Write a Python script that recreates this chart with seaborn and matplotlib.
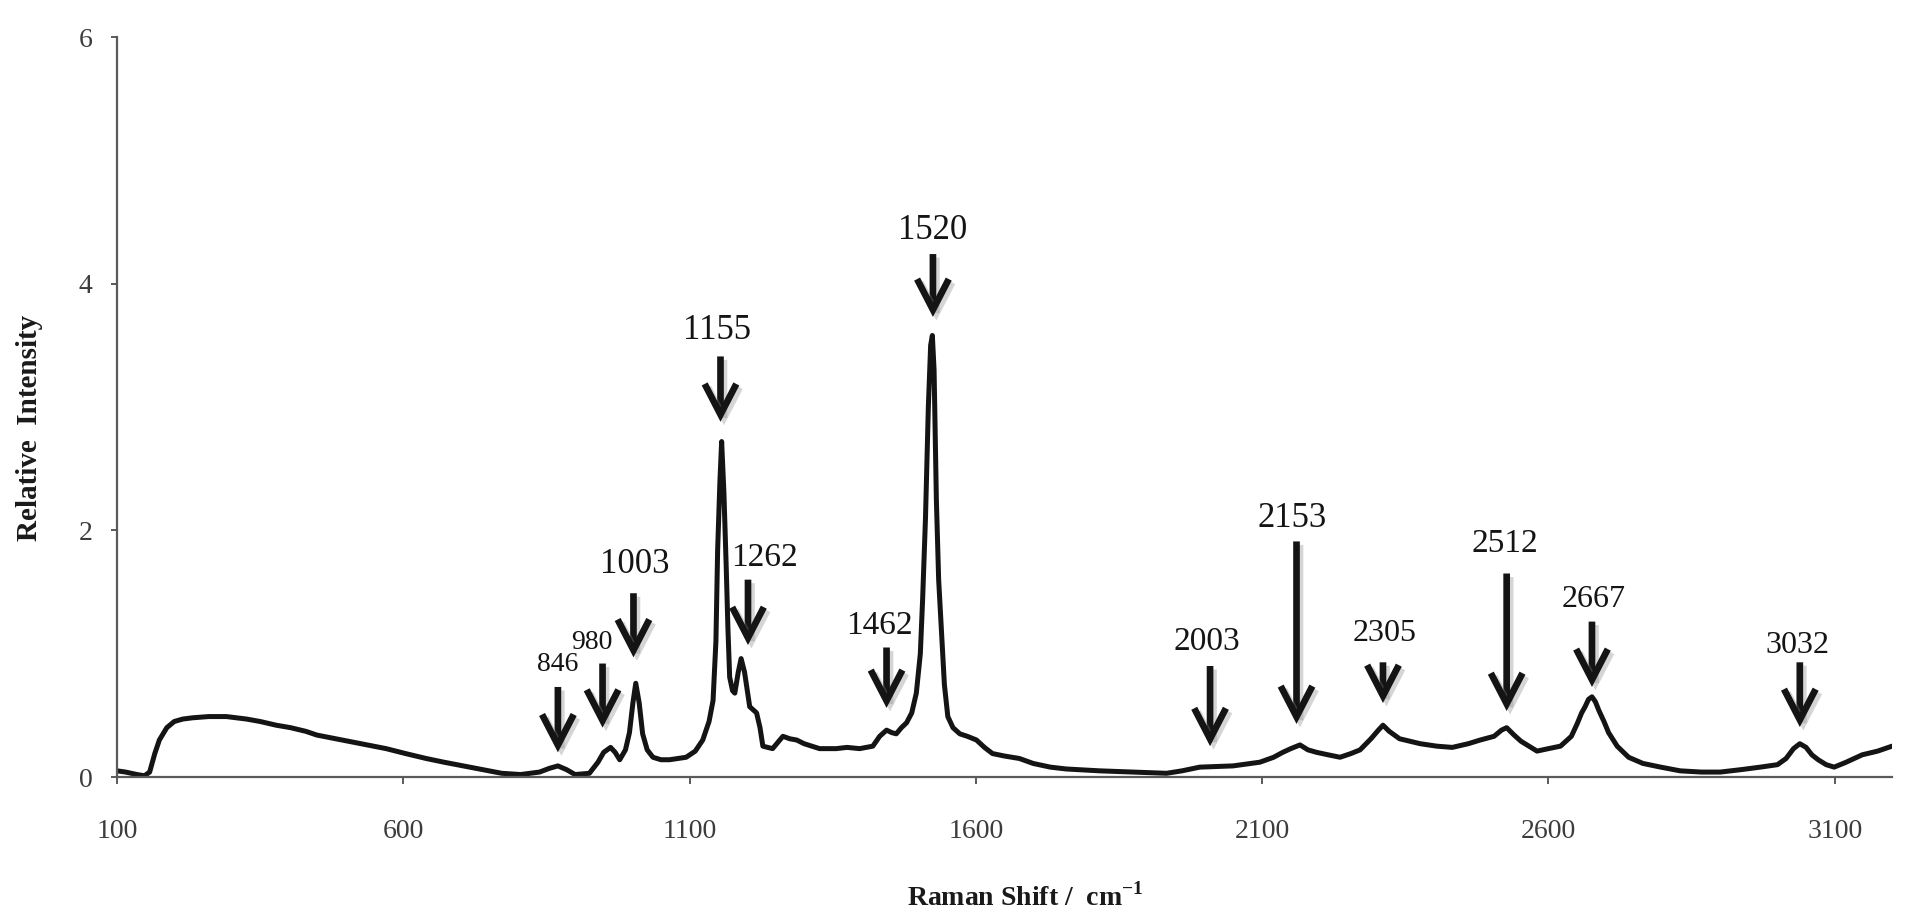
import numpy as np
import pandas as pd
import matplotlib
matplotlib.use("Agg")
import matplotlib.pyplot as plt
import matplotlib.patheffects as pe
import seaborn as sns

# ---------------- data ----------------
wavenumber = [100, 115, 135, 148, 157, 166, 174, 187, 200, 215, 232, 260, 291, 326, 350, 378,
              403, 430, 449, 471, 505, 538, 570, 604, 640, 671, 705, 738, 772, 805, 838, 855,
              870, 885, 900, 925, 940, 950, 962, 970, 978, 988, 995, 1001, 1006, 1012, 1018,
              1026, 1036, 1050, 1065, 1080, 1094, 1110, 1123, 1134, 1141, 1146, 1149, 1153,
              1156, 1160, 1164, 1167, 1170, 1175, 1179, 1185, 1190, 1196, 1205, 1217, 1223,
              1228, 1245, 1263, 1275, 1287, 1300, 1327, 1356, 1375, 1397, 1420, 1432, 1444,
              1453, 1461, 1470, 1479, 1488, 1496, 1503, 1507, 1512, 1517, 1521, 1524, 1527,
              1531, 1535, 1540, 1545, 1551, 1560, 1572, 1585, 1601, 1615, 1629, 1650, 1676,
              1700, 1730, 1758, 1816, 1874, 1933, 1960, 1991, 2049, 2096, 2120, 2136, 2150,
              2166, 2180, 2195, 2215, 2236, 2255, 2271, 2290, 2303, 2311, 2322, 2340, 2376,
              2405, 2432, 2460, 2481, 2505, 2518, 2527, 2540, 2552, 2580, 2600, 2621, 2640,
              2650, 2658, 2664, 2670, 2676, 2682, 2688, 2697, 2705, 2720, 2740, 2765, 2796,
              2830, 2867, 2900, 2937, 2970, 3000, 3015, 3028, 3039, 3050, 3060, 3071, 3085,
              3099, 3120, 3148, 3175, 3200]
intensity = [0.05, 0.04, 0.02, 0.01, 0.04, 0.19, 0.30, 0.40, 0.45, 0.47, 0.48, 0.49, 0.49, 0.47,
             0.45, 0.42, 0.40, 0.37, 0.34, 0.32, 0.29, 0.26, 0.23, 0.19, 0.15, 0.12, 0.09, 0.06,
             0.03, 0.02, 0.04, 0.07, 0.09, 0.06, 0.02, 0.03, 0.12, 0.20, 0.24, 0.20, 0.14, 0.22,
             0.36, 0.60, 0.76, 0.60, 0.35, 0.22, 0.16, 0.14, 0.14, 0.15, 0.16, 0.21, 0.30, 0.45,
             0.62, 1.10, 1.84, 2.40, 2.72, 2.30, 1.70, 1.20, 0.81, 0.70, 0.68, 0.85, 0.96, 0.85,
             0.57, 0.52, 0.40, 0.25, 0.23, 0.33, 0.31, 0.30, 0.27, 0.23, 0.23, 0.24, 0.23, 0.25,
             0.33, 0.38, 0.36, 0.35, 0.40, 0.44, 0.52, 0.68, 1.00, 1.44, 2.10, 3.00, 3.50, 3.58,
             3.30, 2.25, 1.60, 1.17, 0.75, 0.49, 0.40, 0.35, 0.33, 0.30, 0.24, 0.19, 0.17, 0.15,
             0.11, 0.08, 0.065, 0.05, 0.04, 0.03, 0.05, 0.08, 0.09, 0.12, 0.16, 0.20, 0.23, 0.26,
             0.22, 0.20, 0.18, 0.16, 0.19, 0.22, 0.31, 0.38, 0.42, 0.37, 0.31, 0.27, 0.25, 0.24,
             0.27, 0.30, 0.33, 0.38, 0.40, 0.34, 0.29, 0.21, 0.23, 0.25, 0.33, 0.43, 0.52, 0.57,
             0.63, 0.65, 0.61, 0.54, 0.45, 0.36, 0.25, 0.16, 0.11, 0.08, 0.05, 0.04, 0.04, 0.06,
             0.08, 0.10, 0.15, 0.23, 0.27, 0.24, 0.18, 0.14, 0.10, 0.08, 0.12, 0.18, 0.21, 0.25]

peak_labels = ["846", "980", "1003", "1155", "1262", "1462", "1520",
               "2003", "2153", "2305", "2512", "2667", "3032"]
x_ticks = [100, 600, 1100, 1600, 2100, 2600, 3100]
y_ticks = [0, 2, 4, 6]

# ---------------- layout of annotations (data coords) ----------------
# (arrow x, arrow tip y, arrow tail y, text x, text y, font size)
ann_layout = [
    (870, 0.20, 0.73, 870, 0.91, 20),
    (948, 0.40, 0.92, 929, 1.09, 20),
    (1002, 0.97, 1.49, 1004, 1.72, 25),
    (1154, 2.88, 3.41, 1148, 3.62, 25),
    (1202, 1.07, 1.60, 1231, 1.78, 24),
    (1444, 0.56, 1.05, 1432, 1.23, 24),
    (1525, 3.73, 4.24, 1525, 4.43, 25),
    (2009, 0.25, 0.90, 2003, 1.10, 24),
    (2160, 0.43, 1.91, 2153, 2.10, 25),
    (2311, 0.60, 0.93, 2314, 1.16, 23),
    (2527, 0.535, 1.65, 2524, 1.89, 24),
    (2676, 0.73, 1.26, 2679, 1.44, 23),
    (3039, 0.405, 0.93, 3035, 1.07, 23),
]

df = pd.DataFrame({"Raman Shift": wavenumber, "Relative Intensity": intensity})

sns.set_theme(style="ticks")
plt.rcParams["font.family"] = ["Liberation Serif", "DejaVu Serif"]

fig = plt.figure(figsize=(19.30, 9.22), dpi=100)
ax = fig.add_axes([117 / 1930, 1 - 777 / 922, (1892 - 117) / 1930, (777 - 37) / 922])

sns.lineplot(data=df, x="Raman Shift", y="Relative Intensity", ax=ax,
             color="#141414", linewidth=3.6, estimator=None, sort=False)

ax.set_xlim(100, 3200)
ax.set_ylim(0, 6)
ax.set_xticks(x_ticks)
ax.set_yticks(y_ticks)
ax.set_xticklabels([str(t) for t in x_ticks])
ax.set_yticklabels([str(t) for t in y_ticks])

for side in ["top", "right"]:
    ax.spines[side].set_visible(False)
for side in ["left", "bottom"]:
    ax.spines[side].set_color("#5a5a5a")
    ax.spines[side].set_linewidth(1.6)

ax.tick_params(axis="x", direction="out", length=5, width=1.4, color="#5a5a5a",
               labelsize=20, labelcolor="#3c3c3c", pad=25)
ax.tick_params(axis="y", direction="out", length=4.5, width=1.4, color="#5a5a5a",
               labelsize=20, labelcolor="#3c3c3c", pad=13)
ax.set_xlabel("")
ax.set_ylabel("")

fig.text(1025 / 1930, 1 - 897 / 922, r"Raman Shift /  cm$^{\mathregular{-1}}$",
         ha="center", va="center", fontsize=20, fontweight="bold", color="#1a1a1a")
fig.text(30 / 1930, 1 - 428 / 922, "Relative  Intensity", rotation=90,
         ha="center", va="center", fontsize=21, fontweight="bold", color="#1a1a1a")

shadow = [pe.SimpleLineShadow(offset=(2.5, -2.5), shadow_color="#888888", alpha=0.35),
          pe.Normal()]
for label, (ax_x, tip_y, tail_y, tx, ty, fs) in zip(peak_labels, ann_layout):
    ax.annotate("", xy=(ax_x, tip_y), xytext=(ax_x, tail_y),
                arrowprops=dict(arrowstyle="->, head_length=0.58, head_width=0.30",
                                mutation_scale=38, lw=4.8, color="#141414",
                                shrinkA=0, shrinkB=0, capstyle="butt",
                                joinstyle="miter", path_effects=shadow))
    ax.text(tx, ty, label, ha="center", va="center", fontsize=fs, color="#141414")

fig.savefig("out.png", dpi=100)
